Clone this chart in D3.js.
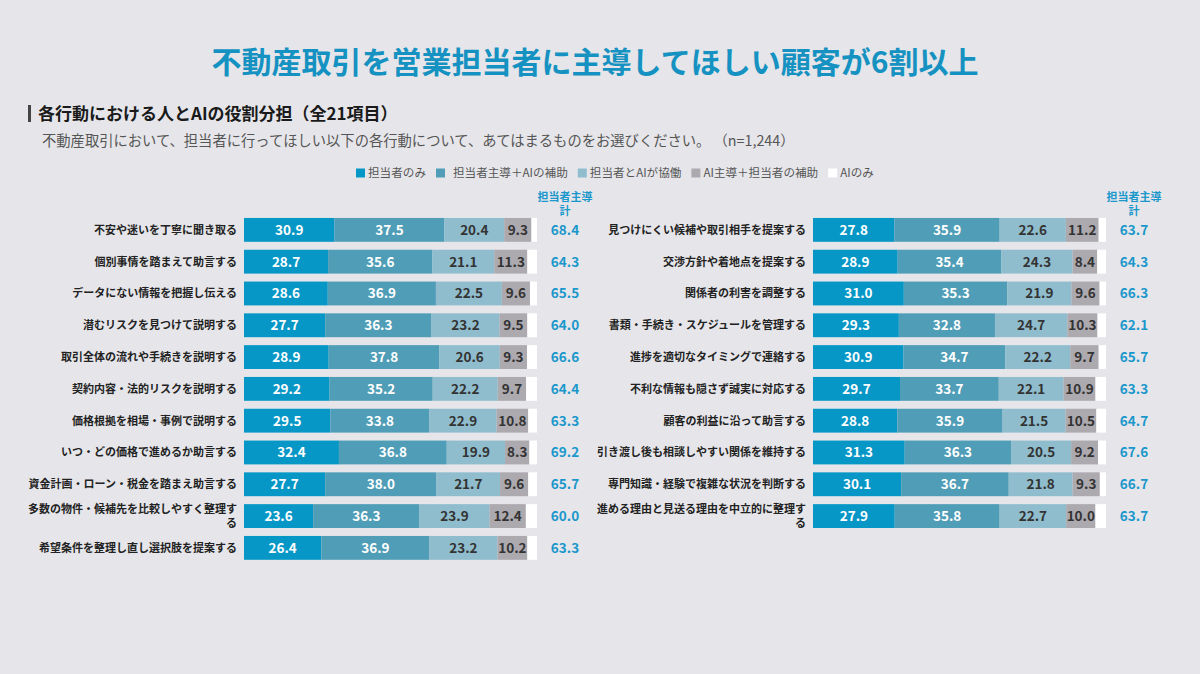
<!DOCTYPE html>
<html>
<head>
<meta charset="utf-8">
<script src="https://cdn.jsdelivr.net/npm/d3@7"></script>
<style>
  html, body { margin: 0; padding: 0; background: #e6e6ea; }
  svg { display: block; font-family: "Noto Sans CJK JP", "Noto Sans", sans-serif; }
</style>
</head>
<body>
<div id="chart"></div>
<script>
// legend / series names
var seriesNames = ["担当者のみ", "担当者主導＋AIの補助", "担当者とAIが協働", "AI主導＋担当者の補助", "AIのみ"];
var seriesColors = ["#0797c6", "#4f9db6", "#8fbdcd", "#aca9af", "#ffffff"];

// left column
var leftLabels = [
  "不安や迷いを丁寧に聞き取る",
  "個別事情を踏まえて助言する",
  "データにない情報を把握し伝える",
  "潜むリスクを見つけて説明する",
  "取引全体の流れや手続きを説明する",
  "契約内容・法的リスクを説明する",
  "価格根拠を相場・事例で説明する",
  "いつ・どの価格で進めるか助言する",
  "資金計画・ローン・税金を踏まえ助言する",
  "多数の物件・候補先を比較しやすく整理する",
  "希望条件を整理し直し選択肢を提案する"
];
var leftOnly    = [30.9, 28.7, 28.6, 27.7, 28.9, 29.2, 29.5, 32.4, 27.7, 23.6, 26.4];
var leftLead    = [37.5, 35.6, 36.9, 36.3, 37.8, 35.2, 33.8, 36.8, 38.0, 36.3, 36.9];
var leftCollab  = [20.4, 21.1, 22.5, 23.2, 20.6, 22.2, 22.9, 19.9, 21.7, 23.9, 23.2];
var leftAiLead  = [9.3, 11.3, 9.6, 9.5, 9.3, 9.7, 10.8, 8.3, 9.6, 12.4, 10.2];
var leftAiOnly  = [1.9, 3.3, 2.4, 3.3, 3.4, 3.7, 3.0, 2.6, 3.0, 3.8, 3.3];
var leftTotal   = [68.4, 64.3, 65.5, 64.0, 66.6, 64.4, 63.3, 69.2, 65.7, 60.0, 63.3];

// right column
var rightLabels = [
  "見つけにくい候補や取引相手を提案する",
  "交渉方針や着地点を提案する",
  "関係者の利害を調整する",
  "書類・手続き・スケジュールを管理する",
  "進捗を適切なタイミングで連絡する",
  "不利な情報も隠さず誠実に対応する",
  "顧客の利益に沿って助言する",
  "引き渡し後も相談しやすい関係を維持する",
  "専門知識・経験で複雑な状況を判断する",
  "進める理由と見送る理由を中立的に整理する"
];
var rightOnly   = [27.8, 28.9, 31.0, 29.3, 30.9, 29.7, 28.8, 31.3, 30.1, 27.9];
var rightLead   = [35.9, 35.4, 35.3, 32.8, 34.7, 33.7, 35.9, 36.3, 36.7, 35.8];
var rightCollab = [22.6, 24.3, 21.9, 24.7, 22.2, 22.1, 21.5, 20.5, 21.8, 22.7];
var rightAiLead = [11.2, 8.4, 9.6, 10.3, 9.7, 10.9, 10.5, 9.2, 9.3, 10.0];
var rightAiOnly = [2.5, 3.0, 2.2, 2.9, 2.5, 3.6, 3.3, 2.7, 2.1, 3.6];
var rightTotal  = [63.7, 64.3, 66.3, 62.1, 65.7, 63.3, 64.7, 67.6, 66.7, 63.7];

var W = 1200, H = 674;
var svg = d3.select("#chart").append("svg")
    .attr("width", W).attr("height", H)
    .attr("viewBox", `0 0 ${W} ${H}`);

svg.append("rect").attr("width", W).attr("height", H).attr("fill", "#e6e6ea");

// title
svg.append("text")
    .attr("x", 595).attr("y", 73)
    .attr("text-anchor", "middle")
    .attr("fill", "#1592c1")
    .style("font-size", "30px").style("font-weight", 700)
    .text("不動産取引を営業担当者に主導してほしい顧客が6割以上");

// subtitle with marker bar
svg.append("rect").attr("x", 28).attr("y", 105).attr("width", 3).attr("height", 17).attr("fill", "#444");
svg.append("text")
    .attr("x", 38).attr("y", 120)
    .attr("fill", "#1a1a1a")
    .style("font-size", "17px").style("font-weight", 700)
    .text("各行動における人とAIの役割分担（全21項目）");
svg.append("text")
    .attr("x", 42).attr("y", 146)
    .attr("fill", "#555")
    .style("font-size", "14.3px")
    .text("不動産取引において、担当者に行ってほしい以下の各行動について、あてはまるものをお選びください。 （n=1,244）");

// legend
var legend = svg.append("g").attr("transform", "translate(356,173)");
var lx = 0;
seriesNames.forEach(function (name, i) {
    var g = legend.append("g").attr("transform", `translate(${lx},0)`);
    g.append("rect").attr("x", 0).attr("y", -4.5).attr("width", 9).attr("height", 9)
        .attr("fill", seriesColors[i]);
    var off = i == 1 ? 17 : 12;
    var t = g.append("text").attr("x", off).attr("y", 4)
        .attr("fill", "#555").style("font-size", "11.6px")
        .text(name);
    lx += off + t.node().getComputedTextLength() + 10;
});

function wrapLabel(sel, maxW) {
    sel.each(function () {
        var text = d3.select(this), str = text.text();
        text.text(null);
        var probe = text.append("tspan").attr("x", 0);
        var lines = [], cur = "";
        for (var c of str) {
            probe.text(cur + c);
            if (probe.node().getComputedTextLength() > maxW && cur.length) {
                lines.push(cur); cur = c;
            } else cur += c;
        }
        lines.push(cur);
        probe.remove();
        var lh = 14.5, start = -(lines.length - 1) * lh / 2;
        lines.forEach(function (l, i) {
            text.append("tspan").attr("x", 0).attr("y", start + i * lh).attr("dy", "0.35em").text(l);
        });
    });
}

function drawPanel(labels, cols, totals, x0, labelX) {
    var rows = labels.map(function (lab, i) {
        var vals = cols.map(function (c) { return c[i]; });
        return { label: lab, vals: vals, total: totals[i] };
    });

    var x = d3.scaleLinear().domain([0, 100]).range([x0, x0 + 293]);
    var y = d3.scaleBand()
        .domain(labels)
        .range([210, 210 + 31.8 * (labels.length + 0.25)])
        .paddingInner(0.25).paddingOuter(0.25);

    var stack = d3.stack().keys([0, 1, 2, 3, 4]).value(function (d, k) { return d.vals[k]; })(rows);

    var g = svg.append("g");
    g.selectAll("g.series")
        .data(stack)
        .enter().append("g")
        .attr("fill", function (d, i) { return seriesColors[i]; })
        .selectAll("rect")
        .data(function (d) { return d; })
        .enter().append("rect")
        .attr("x", function (d) { return x(d[0]); })
        .attr("width", function (d) { return x(d[1]) - x(d[0]); })
        .attr("y", function (d) { return y(d.data.label); })
        .attr("height", y.bandwidth());

    // value labels (first four series)
    stack.slice(0, 4).forEach(function (s, k) {
        g.selectAll(null)
            .data(s)
            .enter().append("text")
            .attr("x", function (d) { return (x(d[0]) + x(d[1])) / 2; })
            .attr("y", function (d) { return y(d.data.label) + y.bandwidth() / 2; })
            .attr("dy", "0.36em")
            .attr("text-anchor", "middle")
            .attr("fill", k < 2 ? "#fff" : "#333")
            .style("font-size", "13.5px").style("font-weight", 700)
            .text(function (d) { return d.data.vals[k].toFixed(1); });
    });

    // category labels
    g.selectAll(null)
        .data(rows)
        .enter().append("text")
        .attr("transform", function (d) { return `translate(${labelX},${y(d.label) + y.bandwidth() / 2})`; })
        .attr("text-anchor", "end")
        .attr("fill", "#222")
        .style("font-size", "11px").style("font-weight", 700)
        .text(function (d) { return d.label; })
        .call(wrapLabel, 210);

    // totals
    var tx = x(100) + 28;
    g.selectAll(null)
        .data(rows)
        .enter().append("text")
        .attr("x", tx)
        .attr("y", function (d) { return y(d.label) + y.bandwidth() / 2; })
        .attr("dy", "0.36em")
        .attr("text-anchor", "middle")
        .attr("fill", "#1a97cb")
        .style("font-size", "13.5px").style("font-weight", 700)
        .text(function (d) { return d.total.toFixed(1); });

    var hd = g.append("text").attr("text-anchor", "middle").attr("fill", "#1a97cb")
        .style("font-size", "11px").style("font-weight", 700);
    hd.append("tspan").attr("x", tx).attr("y", 201).text("担当者主導");
    hd.append("tspan").attr("x", tx).attr("y", 215).text("計");
}

drawPanel(leftLabels, [leftOnly, leftLead, leftCollab, leftAiLead, leftAiOnly], leftTotal, 244, 237);
drawPanel(rightLabels, [rightOnly, rightLead, rightCollab, rightAiLead, rightAiOnly], rightTotal, 813, 806);
</script>
</body>
</html>
